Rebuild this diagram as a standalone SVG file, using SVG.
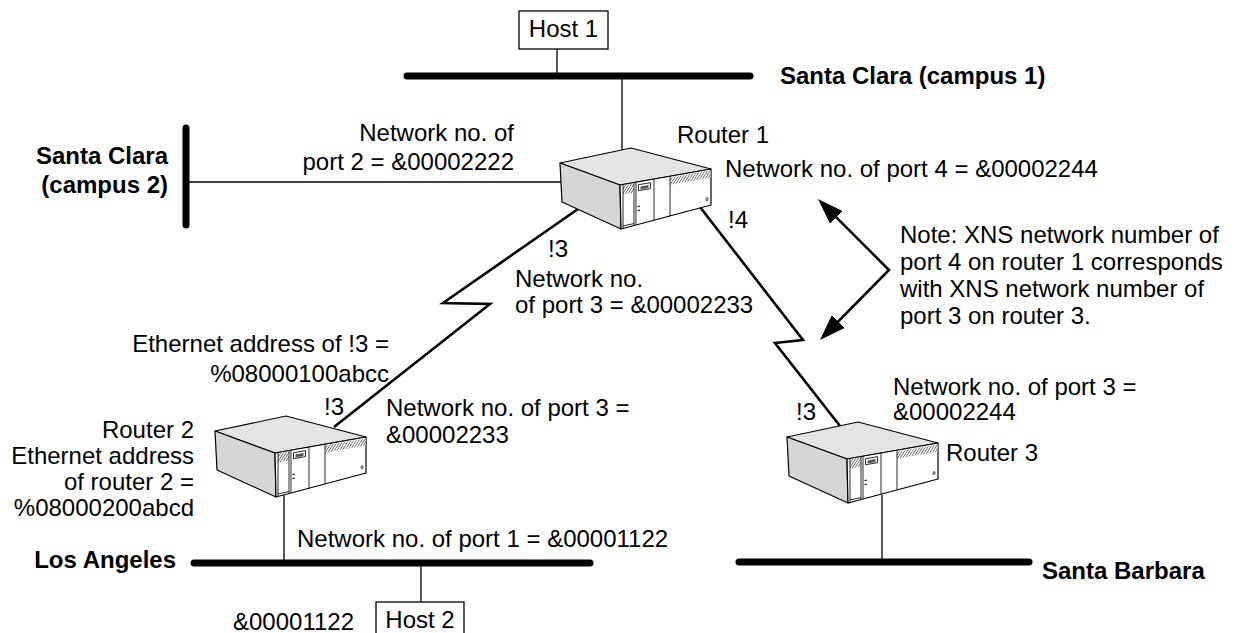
<svg xmlns="http://www.w3.org/2000/svg" xmlns:xlink="http://www.w3.org/1999/xlink" width="1238" height="633" viewBox="0 0 1238 633">
  <style>
    text { font-family: "Liberation Sans", Arial, sans-serif; font-size: 24px; fill: #000; }
    .bold { font-weight: bold; }
    .end { text-anchor: end; }
    .mid { text-anchor: middle; }
    .bus { stroke: #000; stroke-width: 7; stroke-linecap: round; fill: none; }
    .drop { stroke: #000; stroke-width: 1.3; fill: none; }
    .serial { stroke: #000; stroke-width: 2.6; fill: none; stroke-linejoin: miter; }
    .box { fill: #fff; stroke: #000; stroke-width: 1.3; }
    .top { fill: #e4e4e4; stroke: #000; stroke-width: 1.2; stroke-linejoin: round; }
    .side { fill: #d6d6d6; stroke: #000; stroke-width: 1.2; stroke-linejoin: round; }
    .front { fill: #fff; stroke: #000; stroke-width: 1.2; stroke-linejoin: round; }
    .det { stroke: #000; stroke-width: 0.8; fill: none; }
  </style>
  <defs>
    <pattern id="vent" patternUnits="userSpaceOnUse" width="2.4" height="2.4" patternTransform="rotate(35)">
      <rect width="2.4" height="2.4" fill="#fff"/>
      <line x1="0" y1="0" x2="0" y2="2.4" stroke="#222" stroke-width="1.2"/>
    </pattern>
    <marker id="head" markerUnits="userSpaceOnUse" markerWidth="26" markerHeight="18" refX="22" refY="9" orient="auto-start-reverse">
      <path d="M0,0 L26,9 L0,18 Z" fill="#000"/>
    </marker>
    <!-- router chassis, origin at the top-left corner of the front panel -->
    <g id="router">
      <polygon class="top" points="-60,-22 11,-37 91,-16 0,0"/>
      <polygon class="side" points="-60,-22 0,0 1,44 -58,17"/>
      <polygon class="front" points="0,0 91,-16 91,20 1,44"/>
      <g transform="matrix(1,-0.176,0,1,0,0)">
        <rect x="3" y="1" width="11" height="9" fill="url(#vent)"/>
        <rect x="50" y="1.5" width="40.5" height="7" fill="url(#vent)"/>
        <line class="det" x1="3" y1="0" x2="3" y2="44"/>
        <line class="det" x1="14" y1="0" x2="14" y2="43"/>
        <line class="det" x1="16" y1="0" x2="16" y2="42.8"/>
        <line class="det" x1="34" y1="0" x2="34" y2="41.2"/>
        <line class="det" x1="50" y1="0" x2="50" y2="39.7"/>
        <line class="det" x1="3" y1="41.5" x2="14" y2="41"/>
        <rect x="18.5" y="3" width="12" height="6" fill="#fff" stroke="#000" stroke-width="0.8"/>
        <rect x="20.5" y="5" width="8" height="3" fill="#555"/>
        <rect x="17.5" y="24" width="2.4" height="1.4" fill="#333"/>
        <rect x="17.5" y="28" width="2.4" height="1.4" fill="#333"/>
        <ellipse cx="87" cy="29.5" rx="1" ry="1.6" fill="none" stroke="#000" stroke-width="0.7"/>
      </g>
    </g>
  </defs>

  <rect width="1238" height="633" fill="#fff"/>

  <!-- links between hosts, routers and network segments -->
  <g id="connectors">
    <line class="drop" x1="557" y1="49" x2="557" y2="76"/>
    <line class="drop" x1="622" y1="76" x2="622" y2="152"/>
    <line class="drop" x1="186" y1="182" x2="562" y2="182"/>
    <line class="drop" x1="284" y1="495" x2="284" y2="563"/>
    <line class="drop" x1="421" y1="563" x2="421" y2="602"/>
    <line class="drop" x1="882" y1="495" x2="882" y2="562"/>
    <polyline class="serial" points="578,209 443,303 490,304 334,427"/>
    <polyline class="serial" points="700,207 803,340 775,343 840,426"/>
    <polyline class="serial" points="820.8,201.8 889,270 822.8,337.2" marker-start="url(#head)" marker-end="url(#head)"/>
  </g>

  <g id="net-santa-clara-1">
    <line class="bus" x1="407" y1="76" x2="750" y2="76"/>
    <text class="bold" x="780" y="84">Santa Clara (campus 1)</text>
  </g>

  <g id="net-santa-clara-2">
    <line class="bus" x1="186" y1="128" x2="186" y2="225"/>
    <text class="bold end" x="168" y="164">Santa Clara</text>
    <text class="bold end" x="168" y="193">(campus 2)</text>
  </g>

  <g id="net-los-angeles">
    <line class="bus" x1="194" y1="563" x2="590" y2="563"/>
    <text class="bold end" x="176" y="568">Los Angeles</text>
    <text x="297" y="547">Network no. of port 1 = &amp;00001122</text>
  </g>

  <g id="net-santa-barbara">
    <line class="bus" x1="739" y1="562" x2="1029" y2="562"/>
    <text class="bold" x="1042" y="579">Santa Barbara</text>
  </g>

  <g id="host1">
    <rect class="box" x="519" y="11" width="89" height="38"/>
    <text class="mid" x="563.5" y="37">Host 1</text>
  </g>

  <g id="host2">
    <rect class="box" x="376" y="602" width="88" height="40"/>
    <text class="mid" x="420" y="628">Host 2</text>
    <text class="end" x="354" y="630">&amp;00001122</text>
  </g>

  <g id="router1">
    <use xlink:href="#router" href="#router" x="620" y="185"/>
    <text x="677" y="143">Router 1</text>
    <text x="725" y="177">Network no. of port 4 = &amp;00002244</text>
    <text class="end" x="514" y="141">Network no. of</text>
    <text class="end" x="514" y="170">port 2 = &amp;00002222</text>
    <text x="548" y="257">!3</text>
    <text x="515" y="287">Network no.</text>
    <text x="515" y="313">of port 3 = &amp;00002233</text>
    <text x="728" y="228">!4</text>
  </g>

  <g id="router2">
    <use xlink:href="#router" href="#router" x="275" y="453"/>
    <text class="end" x="194" y="438">Router 2</text>
    <text class="end" x="194" y="464">Ethernet address</text>
    <text class="end" x="194" y="490">of router 2 =</text>
    <text class="end" x="194" y="516">%08000200abcd</text>
    <text class="end" x="389" y="352">Ethernet address of !3 =</text>
    <text class="end" x="389" y="382">%08000100abcc</text>
    <text x="324" y="415">!3</text>
    <text x="386" y="416">Network no. of port 3 =</text>
    <text x="386" y="443">&amp;00002233</text>
  </g>

  <g id="router3">
    <use xlink:href="#router" href="#router" x="847" y="459"/>
    <text x="946" y="461">Router 3</text>
    <text x="796" y="420">!3</text>
    <text x="893" y="395">Network no. of port 3 =</text>
    <text x="893" y="420">&amp;00002244</text>
  </g>

  <g id="note">
    <text x="900" y="243">Note: XNS network number of</text>
    <text x="900" y="270">port 4 on router 1 corresponds</text>
    <text x="900" y="297">with XNS network number of</text>
    <text x="900" y="324">port 3 on router 3.</text>
  </g>
</svg>
